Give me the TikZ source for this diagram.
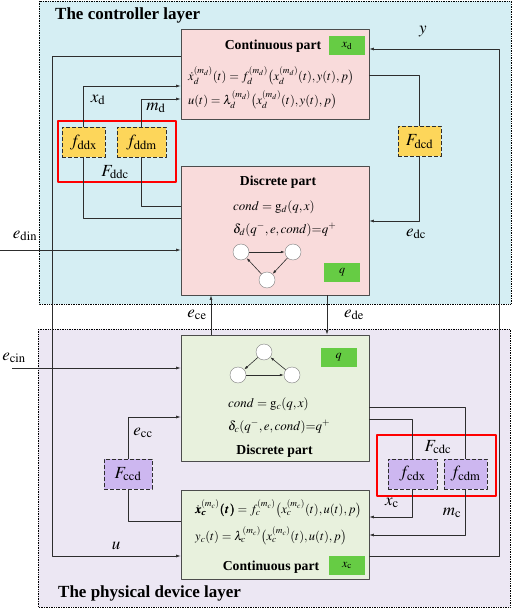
\documentclass[tikz,border=0pt]{standalone}
\usepackage{mathptmx}
\usepackage{bm}
\usepackage{fontspec}
\setmainfont{Liberation Serif}
\usetikzlibrary{arrows.meta}

\definecolor{ctrlbg}{RGB}{213,238,243}
\definecolor{physbg}{RGB}{236,231,243}
\definecolor{pinkbox}{RGB}{249,219,219}
\definecolor{greenbox}{RGB}{232,241,221}
\definecolor{yellowbox}{RGB}{253,214,90}
\definecolor{purplebox}{RGB}{205,183,240}
\definecolor{tagbox}{RGB}{102,204,68}
\definecolor{wirecol}{RGB}{45,45,45}

\tikzset{
  layer/.style={densely dotted, line width=0.7pt},
  partbox/.style={draw=wirecol!85, line width=0.8pt, minimum width=188pt, inner sep=0pt},
  funcbox/.style={draw=wirecol, dash pattern=on 4pt off 2pt, line width=0.8pt, minimum height=30pt, inner sep=0pt, font=\fontsize{17}{17}\selectfont},
  group/.style={draw=red, line width=1.3pt},
  tag/.style={fill=tagbox, minimum width=36pt, minimum height=19pt, inner sep=0pt, font=\fontsize{12}{12}\selectfont},
  state/.style={circle, draw=gray, fill=white, minimum size=16pt, inner sep=0pt},
  wire/.style={draw=wirecol, line width=0.6pt},
  lbl/.style={inner sep=0pt, font=\fontsize{17}{17}\selectfont},
  head/.style={inner sep=0pt, font=\fontsize{13.7}{14}\selectfont\bfseries},
  title/.style={anchor=west, inner sep=0pt, font=\fontsize{17}{17}\selectfont\bfseries},
  eqn/.style={anchor=west, inner sep=0pt, font=\fontsize{12.5}{12.5}\selectfont},
  logic/.style={anchor=west, inner sep=0pt, font=\fontsize{13}{13}\selectfont}
}

\begin{document}
\begin{tikzpicture}[x=1pt, y=-1pt, line join=round, >={Latex[length=4.5pt,width=3pt]}]
\useasboundingbox (0,0) rectangle (512,609);
\draw[layer, fill=ctrlbg] (39,1) rectangle (511,304);
\draw[layer, fill=physbg] (38,329) rectangle (510,607);

\node[partbox, fill=pinkbox, minimum height=90pt] (dcont) at (275,74) {};
\node[partbox, fill=pinkbox, minimum height=129pt] (ddisc) at (275,230.5) {};
\node[partbox, fill=greenbox, minimum height=126pt] (pdisc) at (275,398) {};
\node[partbox, fill=greenbox, minimum height=89pt] (pcont) at (275,534.5) {};

\node[funcbox, fill=yellowbox, minimum width=43pt] (fddx) at (83.5,142.5) {$f_{\mathrm{ddx}}$};
\node[funcbox, fill=yellowbox, minimum width=49pt] (fddm) at (141.5,142.5) {$f_{\mathrm{ddm}}$};
\node[funcbox, fill=yellowbox, minimum width=43pt] (Fdcd) at (419.5,141.5) {$F_{\mathrm{dcd}}$};
\node[funcbox, fill=purplebox, minimum width=48pt] (Fccd) at (128,474) {$F_{\mathrm{ccd}}$};
\node[funcbox, fill=purplebox, minimum width=49pt] (fcdx) at (412.5,474) {$f_{\mathrm{cdx}}$};
\node[funcbox, fill=purplebox, minimum width=43pt] (fcdm) at (465.5,474) {$f_{\mathrm{cdm}}$};

\draw[group] (58,121) rectangle (176,182);
\draw[group] (377,435) rectangle (496,496);

\path
(52,56) coordinate (uT)
(52,556) coordinate (uB)
(499,49) coordinate (yT)
(499,556) coordinate (yB)
(0,86) coordinate (xdH)
(0,99) coordinate (mdH)
(0,218) coordinate (fxH)
(0,206) coordinate (fmH)
(0,250) coordinate (edin)
(0,75) coordinate (dcdH)
(0,221) coordinate (edcH)
(211,0) coordinate (eceV)
(327,0) coordinate (edeV)
(12,368) coordinate (ecin)
(0,417) coordinate (eccH)
(0,521) coordinate (ccdH)
(0,407) coordinate (cdmH)
(0,419) coordinate (cdxH)
(0,517) coordinate (xcH)
(0,535) coordinate (mcH)
;
\draw[wire, ->] (dcont.west |- uT) -- (uT) -- (uB) -- (pcont.west |- uB);
\draw[wire, ->] (pcont.east |- yB) -- (yB) -- (yT) -- (dcont.east |- yT);
\draw[wire, ->] (fddx.north) |- (dcont.west |- xdH);
\draw[wire, ->] (fddm.north) |- (dcont.west |- mdH);
\draw[wire] (fddx.south) |- (ddisc.west |- fxH);
\draw[wire] (fddm.south) |- (ddisc.west |- fmH);
\draw[wire, ->] (edin) -- (ddisc.west |- edin);
\draw[wire] (Fdcd.north) |- (dcont.east |- dcdH);
\draw[wire, ->] (Fdcd.south) |- (ddisc.east |- edcH);
\draw[wire, ->] (pdisc.north -| eceV) -- (ddisc.south -| eceV);
\draw[wire, ->] (ddisc.south -| edeV) -- (pdisc.north -| edeV);
\draw[wire, ->] (ecin) -- (pdisc.west |- ecin);
\draw[wire, ->] (Fccd.north) |- (pdisc.west |- eccH);
\draw[wire] (Fccd.south) |- (pcont.west |- ccdH);
\draw[wire] (pdisc.east |- cdmH) -| (fcdm.north);
\draw[wire] (pdisc.east |- cdxH) -| (fcdx.north);
\draw[wire, ->] (fcdx.south) |- (pcont.east |- xcH);
\draw[wire, ->] (fcdm.south) |- (pcont.east |- mcH);

\foreach \n/\x/\y in {da/241/252, db/293/252, dc/267/280, pa/264/352, pb/238/375, pc/292/375}{
  \node[state] (\n) at (\x,\y) {};
}
\foreach \a/\b in {da/db, db/dc, dc/da, pa/pb, pb/pc, pc/pa}{
  \draw[wire, -{Latex[length=4pt,width=2.6pt]}] (\a) -- (\b);
}

\node[tag] (tagxd) at (347,46) {$x_{\mathrm{d}}$};
\node[tag] (tagqd) at (342,272.5) {$q$};
\node[tag] (tagqc) at (338.5,357.5) {$q$};
\node[tag] (tagxc) at (347,565.5) {$x_{\mathrm{c}}$};

\node[head] (hdcont) at (273,46) {Continuous part};
\node[head] (hddisc) at (278,182) {Discrete part};
\node[head] (hpdisc) at (274.5,451) {Discrete part};
\node[head] (hpcont) at (271,567) {Continuous part};

\node[eqn] (eqd1) at (188,76) {$\dot{x}_d^{(m_d)}(t)=f_d^{(m_d)}\big(x_d^{(m_d)}(t), y(t), p\big)$};
\node[eqn] (eqd2) at (188,100) {$u(t)=\lambda_d^{(m_d)}\big(x_d^{(m_d)}(t), y(t), p\big)$};
\node[logic] (condd) at (233,207) {$cond=\mathrm{g}_d(q,x)$};
\node[logic] (deltad) at (233,230) {$\delta_d(q^{-},e,cond){=}q^{+}$};
\node[logic] (condc) at (228,404) {$cond=\mathrm{g}_c(q,x)$};
\node[logic] (deltac) at (228,427) {$\delta_c(q^{-},e,cond){=}q^{+}$};
\node[eqn] (eqc1) at (195,509) {$\bm{\dot{x}_c^{(m_c)}(t)}=f_c^{(m_c)}\big(x_c^{(m_c)}(t),u(t), p\big)$};
\node[eqn] (eqc2) at (195,536) {$y_c(t)=\lambda_c^{(m_c)}\big(x_c^{(m_c)}(t),u(t), p\big)$};

\node[title] (tctrl) at (55,15) {The controller layer};
\node[title] (tphys) at (58,593) {The physical device layer};

\foreach \n/\x/\y/\t in {xd/98/100/x_{\mathrm{d}}, md/156/108/m_{\mathrm{d}}, Fddc/115/172/F_{\mathrm{ddc}}, edin/25/236/e_{\mathrm{din}}, edc/416/234/e_{\mathrm{dc}}, y/423/32/y, ece/197/315/e_{\mathrm{ce}}, ede/354/315/e_{\mathrm{de}}, ecin/14/358/e_{\mathrm{cin}}, ecc/143/433/e_{\mathrm{cc}}, Fcdc/438/447/F_{\mathrm{cdc}}, xc/392/503/x_{\mathrm{c}}, mc/452/513/m_{\mathrm{c}}, u/116/546/u}{
  \node[lbl] (l\n) at (\x,\y) {$\t$};
}
\end{tikzpicture}
\end{document}
